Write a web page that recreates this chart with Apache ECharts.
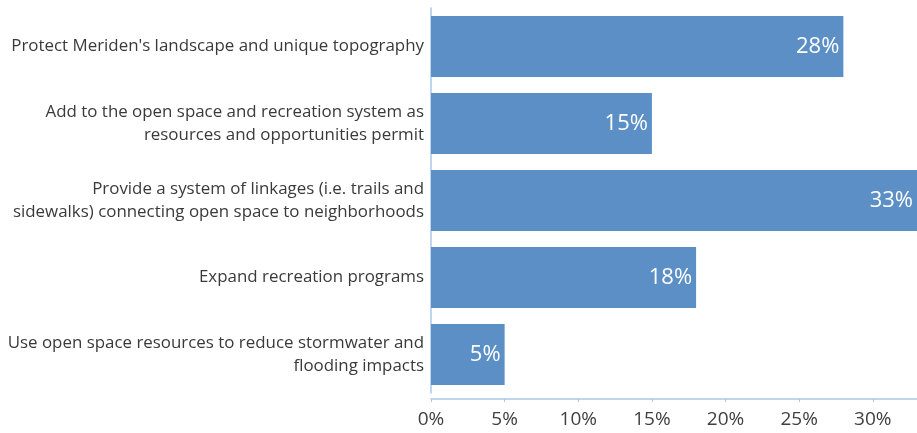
<!DOCTYPE html>
<html>
<head>
<meta charset="utf-8">
<script src="https://cdn.jsdelivr.net/npm/echarts@6/dist/echarts.min.js"></script>
<style>
  html, body { margin: 0; padding: 0; background: #ffffff; }
  #chart { width: 917px; height: 433px; }
</style>
</head>
<body>
<div id="chart"></div>
<script>
// Survey priorities for open space and recreation (share of responses, %)
const categories = [
  "Protect Meriden's landscape and unique topography",
  "Add to the open space and recreation system as\nresources and opportunities permit",
  "Provide a system of linkages (i.e. trails and\nsidewalks) connecting open space to neighborhoods",
  "Expand recreation programs",
  "Use open space resources to reduce stormwater and\nflooding impacts"
];
const shares = [28, 15, 33, 18, 5];
const axisMin = 0;
const axisMax = 33;
const axisStep = 5;

const fontStack = '"Open Sans", "Noto Sans", sans-serif';

const chart = echarts.init(document.getElementById('chart'));
chart.setOption({
  animation: false,
  grid: { left: 431, right: 0, top: 8, bottom: 40, containLabel: false },
  xAxis: {
    type: 'value',
    min: axisMin,
    max: axisMax,
    interval: axisStep,
    offset: 6,
    axisLine: { show: true, lineStyle: { color: '#a9c8e8', width: 1.5 } },
    axisTick: { show: true, length: 3, lineStyle: { color: '#a9c8e8' } },
    splitLine: { show: false },
    axisLabel: {
      formatter: '{value}%',
      showMaxLabel: false,
      color: '#404040',
      fontFamily: fontStack,
      fontSize: 19,
      margin: 11
    }
  },
  yAxis: {
    type: 'category',
    inverse: true,
    data: categories,
    axisLine: { show: true, lineStyle: { color: '#a9c8e8', width: 1.5 } },
    axisTick: { show: false },
    axisLabel: {
      color: '#3a3a3a',
      fontFamily: fontStack,
      fontSize: 16.9,
      lineHeight: 23,
      margin: 7,
      align: 'right'
    }
  },
  series: [{
    type: 'bar',
    data: shares,
    barCategoryGap: '21%',
    itemStyle: { color: '#5b8fc6' },
    label: {
      show: true,
      position: 'insideRight',
      distance: 4,
      formatter: '{c}%',
      color: '#ffffff',
      fontFamily: fontStack,
      fontSize: 22
    }
  }]
});
</script>
</body>
</html>
